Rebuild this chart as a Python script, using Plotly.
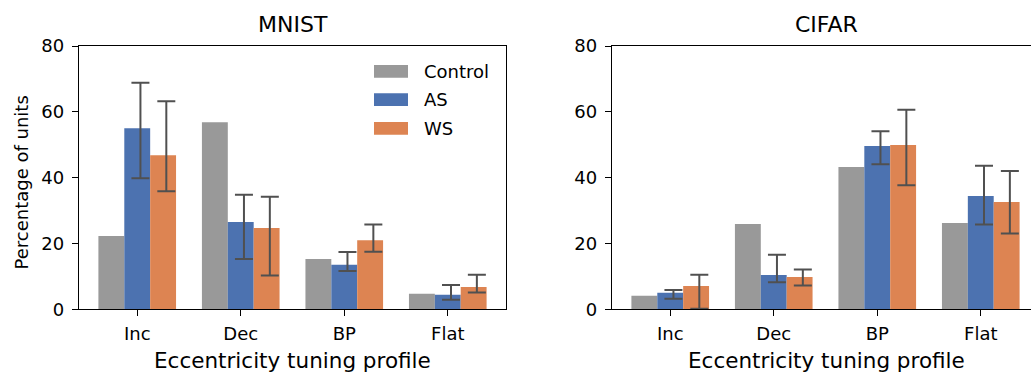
import plotly.graph_objects as go

categories = ["Inc", "Dec", "BP", "Flat"]
series_names = ["Control", "AS", "WS"]

# MNIST
mnist_control = [22.3, 56.8, 15.3, 4.7]
mnist_as = [55.0, 26.5, 13.5, 4.4]
mnist_as_lo = [39.8, 15.3, 11.6, 2.9]
mnist_as_hi = [68.8, 34.8, 17.4, 7.4]
mnist_ws = [46.8, 24.7, 21.0, 6.8]
mnist_ws_lo = [35.9, 10.3, 17.5, 5.1]
mnist_ws_hi = [63.2, 34.2, 25.8, 10.5]

# CIFAR
cifar_control = [4.1, 25.9, 43.2, 26.2]
cifar_as = [5.0, 10.4, 49.6, 34.4]
cifar_as_lo = [3.2, 8.2, 44.1, 25.8]
cifar_as_hi = [5.9, 16.6, 54.1, 43.6]
cifar_ws = [7.1, 9.8, 49.9, 32.6]
cifar_ws_lo = [0.2, 7.2, 37.7, 23.0]
cifar_ws_hi = [10.5, 12.1, 60.6, 42.0]

y_ticks = [0, 20, 40, 60, 80]
titles = ["MNIST", "CIFAR"]
x_label = "Eccentricity tuning profile"
y_label = "Percentage of units"

colors = {"Control": "#999999", "AS": "#4c72b0", "WS": "#dd8452"}
err_color = "#505050"
FONT = "DejaVu Sans"
W, H = 1031, 372

panels = [
    dict(ctrl=mnist_control, AS=(mnist_as, mnist_as_lo, mnist_as_hi),
         WS=(mnist_ws, mnist_ws_lo, mnist_ws_hi)),
    dict(ctrl=cifar_control, AS=(cifar_as, cifar_as_lo, cifar_as_hi),
         WS=(cifar_ws, cifar_ws_lo, cifar_ws_hi)),
]

fig = go.Figure()
xpos = list(range(len(categories)))
bar_w = 0.25
err_shift = 0.031

for p, panel in enumerate(panels):
    xa = "x" if p == 0 else "x2"
    ya = "y" if p == 0 else "y2"
    vals = {"Control": panel["ctrl"], "AS": panel["AS"][0], "WS": panel["WS"][0]}
    for k, name in enumerate(series_names):
        fig.add_trace(go.Bar(
            x=[i + (k - 1) * bar_w for i in xpos], y=vals[name], width=bar_w,
            marker=dict(color=colors[name], line=dict(width=0)),
            name=name, showlegend=False, xaxis=xa, yaxis=ya,
        ))
    for k, name in enumerate(series_names):
        if name == "Control":
            continue
        v, lo, hi = panel[name]
        fig.add_trace(go.Scatter(
            x=[i + (k - 1) * bar_w + err_shift for i in xpos], y=v,
            mode="markers", marker=dict(size=1, opacity=0),
            error_y=dict(type="data", symmetric=False,
                         array=[h - a for h, a in zip(hi, v)],
                         arrayminus=[a - l for a, l in zip(v, lo)],
                         color=err_color, thickness=2, width=9),
            showlegend=False, hoverinfo="skip", xaxis=xa, yaxis=ya,
        ))

y0_px, y1_px = 46.0, 309.3
ydom = [1 - y1_px / H, 1 - y0_px / H]
left_dom = [79 / W, 506 / W]
px_per_unit = (506 - 79) / 4.125
right_dom = [612 / W, 1.0]
right_max = -0.5625 + (W - 612) / px_per_unit

axis_common = dict(showline=True, linecolor="black", linewidth=1.3, ticks="outside",
                   ticklen=6, tickwidth=1.3, tickcolor="black", showgrid=False,
                   zeroline=False, automargin=False,
                   tickfont=dict(family=FONT, size=18, color="black"))

fig.update_layout(
    width=W, height=H, margin=dict(l=0, r=0, t=0, b=0, autoexpand=False),
    paper_bgcolor="white", plot_bgcolor="white",
    barmode="overlay",
    xaxis=dict(domain=left_dom, range=[-0.5625, 3.5625], tickvals=xpos, ticktext=categories,
               mirror=True, anchor="y", ticklabelstandoff=2, **axis_common),
    yaxis=dict(domain=ydom, range=[0, 80], tickvals=y_ticks, mirror=True, anchor="x",
               ticklabelstandoff=4, **axis_common),
    xaxis2=dict(domain=right_dom, range=[-0.5625, right_max], tickvals=xpos, ticktext=categories,
                mirror=True, anchor="y2", ticklabelstandoff=2, **axis_common),
    yaxis2=dict(domain=ydom, range=[0, 80], tickvals=y_ticks, mirror=False, anchor="x2",
                ticklabelstandoff=4, **axis_common),
)

annotations = []
centers = [(79 + 506) / 2, (612 + 612 + 428) / 2]
for c, t in zip(centers, titles):
    annotations.append(dict(text=t, x=c / W, y=1 - 24.7 / H, xref="paper", yref="paper",
                            xanchor="center", yanchor="middle", showarrow=False,
                            font=dict(family=FONT, size=22, color="black")))
    annotations.append(dict(text=x_label, x=c / W, y=1 - 360.5 / H, xref="paper", yref="paper",
                            xanchor="center", yanchor="middle", showarrow=False,
                            font=dict(family=FONT, size=21.5, color="black")))
annotations.append(dict(text=y_label, x=21 / W, y=1 - 182.5 / H, xref="paper", yref="paper",
                        xanchor="center", yanchor="middle", textangle=-90, showarrow=False,
                        font=dict(family=FONT, size=18, color="black")))

# legend (drawn manually to match patch shape)
shapes = []
leg_rows = [71.3, 99.7, 128.3]
for name, yc in zip(series_names, leg_rows):
    shapes.append(dict(type="rect", xref="paper", yref="paper",
                       x0=374 / W, x1=408 / W, y0=1 - (yc + 6.4) / H, y1=1 - (yc - 6.4) / H,
                       fillcolor=colors[name], line=dict(width=0)))
    annotations.append(dict(text=name, x=422 / W, y=1 - yc / H, xref="paper", yref="paper",
                            xanchor="left", yanchor="middle", showarrow=False,
                            font=dict(family=FONT, size=18, color="black")))

fig.update_layout(annotations=annotations, shapes=shapes)
fig.write_html("out.html")
